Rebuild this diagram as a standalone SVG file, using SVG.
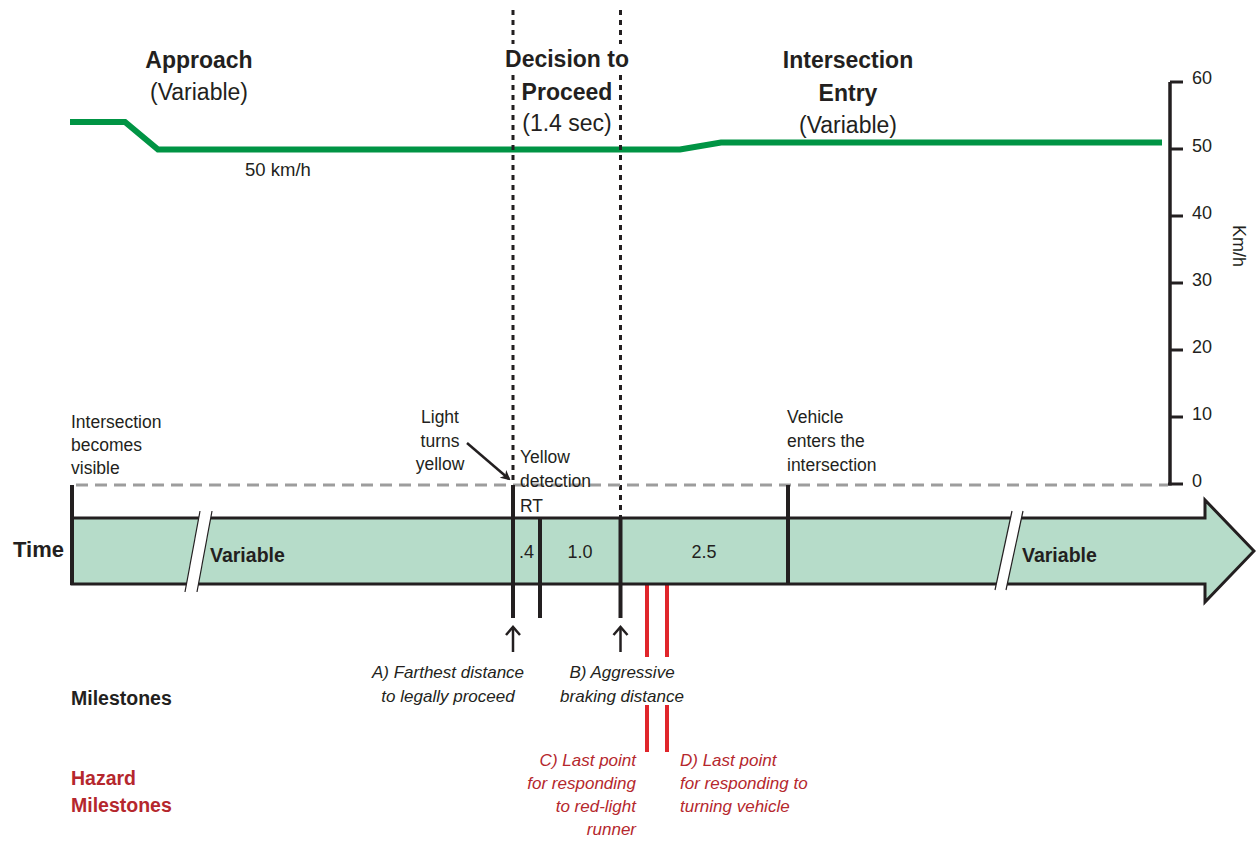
<svg xmlns="http://www.w3.org/2000/svg" width="1256" height="841" viewBox="0 0 1256 841">
<defs>
<style>
text{font-family:"Liberation Sans",Arial,sans-serif;fill:#231f20}
.h{font-size:23px;font-weight:bold}
.hn{font-size:23px}
.s{font-size:17.5px}
.n{font-size:18px}
.b{font-size:19.5px;font-weight:bold}
.i{font-size:17px;font-style:italic}
.red{fill:#b5272d}
.m{text-anchor:middle}
.e{text-anchor:end}
.bar{stroke:#231f20;stroke-width:4;fill:none}
.dot{stroke:#231f20;stroke-width:3;stroke-dasharray:5 5;fill:none}
.rl{stroke:#e0262b;stroke-width:4;fill:none}
.ch{stroke:#231f20;stroke-width:2.5;fill:none}
</style>
<marker id="ah" markerWidth="10" markerHeight="10" refX="8" refY="5" orient="auto" markerUnits="userSpaceOnUse">
<path d="M0,0 L10,5 L0,10 L3,5 Z" fill="#231f20"/>
</marker>
</defs>
<rect width="1256" height="841" fill="#ffffff"/>

<g id="speed-line">
<polyline points="70,122 125,122 158,149.5 680,149.5 721,142.5 1162,142.5" fill="none" stroke="#009444" stroke-width="6"/>
<text x="245" y="176" style="font-size:18.5px">50 km/h</text>
</g>

<g id="axis">
<line x1="1170" y1="82" x2="1170" y2="485.5" stroke="#231f20" stroke-width="3.5"/>
<g stroke="#231f20" stroke-width="3">
<line x1="1170" y1="82" x2="1183" y2="82"/>
<line x1="1170" y1="149" x2="1183" y2="149"/>
<line x1="1170" y1="216" x2="1183" y2="216"/>
<line x1="1170" y1="283" x2="1183" y2="283"/>
<line x1="1170" y1="350" x2="1183" y2="350"/>
<line x1="1170" y1="417" x2="1183" y2="417"/>
<line x1="1168" y1="484" x2="1183" y2="484"/>
</g>
<text class="n" x="1192" y="84">60</text>
<text class="n" x="1192" y="152">50</text>
<text class="n" x="1192" y="219">40</text>
<text class="n" x="1192" y="286">30</text>
<text class="n" x="1192" y="353">20</text>
<text class="n" x="1192" y="420">10</text>
<text class="n" x="1192" y="487">0</text>
<text class="n m" x="1233" y="246" transform="rotate(90 1233 246)">Km/h</text>
</g>

<g id="phase-approach">
<text class="h m" x="199" y="68">Approach</text>
<text class="hn m" x="199" y="100">(Variable)</text>
</g>
<g id="phase-decision">
<text class="h m" x="567" y="67">Decision to</text>
<text class="h m" x="567" y="100">Proceed</text>
<text class="hn m" x="567" y="131">(1.4 sec)</text>
</g>
<g id="phase-entry">
<text class="h m" x="848" y="68">Intersection</text>
<text class="h m" x="848" y="101">Entry</text>
<text class="hn m" x="848" y="133">(Variable)</text>
</g>

<g id="connectors">
<line x1="513" y1="10" x2="513" y2="44" class="dot"/>
<line x1="513" y1="75" x2="513" y2="485" class="dot"/>
<line x1="620.5" y1="10" x2="620.5" y2="44" class="dot"/>
<line x1="620.5" y1="75" x2="620.5" y2="518" class="dot"/>
<line x1="76" y1="485" x2="1168" y2="485" stroke="#9d9d9d" stroke-width="3" stroke-dasharray="12 7"/>
<line x1="467" y1="443" x2="509" y2="479" stroke="#231f20" stroke-width="2.5" marker-end="url(#ah)"/>
<line x1="513" y1="652" x2="513" y2="627" class="ch"/>
<polyline points="506,635 513,627 520,635" class="ch"/>
<line x1="620.5" y1="652" x2="620.5" y2="627" class="ch"/>
<polyline points="613.5,635 620.5,627 627.5,635" class="ch"/>
<line x1="647" y1="584" x2="647" y2="657" class="rl"/>
<line x1="667" y1="584" x2="667" y2="657" class="rl"/>
<line x1="647" y1="705" x2="647" y2="752" class="rl"/>
<line x1="667" y1="705" x2="667" y2="752" class="rl"/>
</g>

<g id="time-bar">
<path d="M72,518 L1205,518 L1205,500 L1254,551 L1205,602 L1205,584 L72,584 Z" fill="#b6dcc9" stroke="#231f20" stroke-width="3" stroke-linejoin="miter"/>
<polygon points="200,511 212,511 197,592 185,592" fill="#ffffff" stroke="none"/>
<line x1="200" y1="511" x2="185" y2="592" stroke="#231f20" stroke-width="1.2"/>
<line x1="212" y1="511" x2="197" y2="592" stroke="#231f20" stroke-width="1.2"/>
<polygon points="1012,511 1023,511 1006,590 995,590" fill="#ffffff" stroke="none"/>
<line x1="1012" y1="511" x2="995" y2="590" stroke="#231f20" stroke-width="1.2"/>
<line x1="1023" y1="511" x2="1006" y2="590" stroke="#231f20" stroke-width="1.2"/>
<line x1="72" y1="485" x2="72" y2="585" class="bar"/>
<line x1="513" y1="485" x2="513" y2="618" class="bar"/>
<line x1="540" y1="518" x2="540" y2="618" class="bar"/>
<line x1="620.5" y1="518" x2="620.5" y2="618" class="bar"/>
<line x1="788" y1="485" x2="788" y2="584" class="bar"/>
<text x="13" y="557" style="font-size:22px;font-weight:bold">Time</text>
<text class="b" x="210" y="562">Variable</text>
<text class="b" x="1022" y="562">Variable</text>
<text class="n" x="519" y="558">.4</text>
<text class="n m" x="580" y="558">1.0</text>
<text class="n m" x="704" y="558">2.5</text>
</g>

<g id="event-visible">
<text class="s" x="71" y="428">Intersection</text>
<text class="s" x="71" y="451">becomes</text>
<text class="s" x="71" y="474">visible</text>
</g>
<g id="event-yellow">
<text class="s m" x="440" y="423">Light</text>
<text class="s m" x="440" y="447">turns</text>
<text class="s m" x="440" y="470">yellow</text>
</g>
<g id="event-detection">
<text class="s" x="520" y="463">Yellow</text>
<text class="s" x="520" y="487">detection</text>
<text class="s" x="520" y="512">RT</text>
</g>
<g id="event-enters">
<text class="s" x="787" y="423">Vehicle</text>
<text class="s" x="787" y="447">enters the</text>
<text class="s" x="787" y="471">intersection</text>
</g>

<g id="milestone-a">
<text class="i m" x="448" y="678">A) Farthest distance</text>
<text class="i m" x="448" y="702">to legally proceed</text>
</g>
<g id="milestone-b">
<text class="i m" x="622" y="678">B) Aggressive</text>
<text class="i m" x="622" y="702">braking distance</text>
</g>
<g id="milestone-c">
<text class="i e red" x="636" y="766">C) Last point</text>
<text class="i e red" x="636" y="789">for responding</text>
<text class="i e red" x="636" y="812">to red-light</text>
<text class="i e red" x="636" y="835">runner</text>
</g>
<g id="milestone-d">
<text class="i red" x="680" y="766">D) Last point</text>
<text class="i red" x="680" y="789">for responding to</text>
<text class="i red" x="680" y="812">turning vehicle</text>
</g>

<g id="row-labels">
<text class="b" x="71" y="705">Milestones</text>
<text class="b red" x="71" y="785">Hazard</text>
<text class="b red" x="71" y="812">Milestones</text>
</g>
</svg>
